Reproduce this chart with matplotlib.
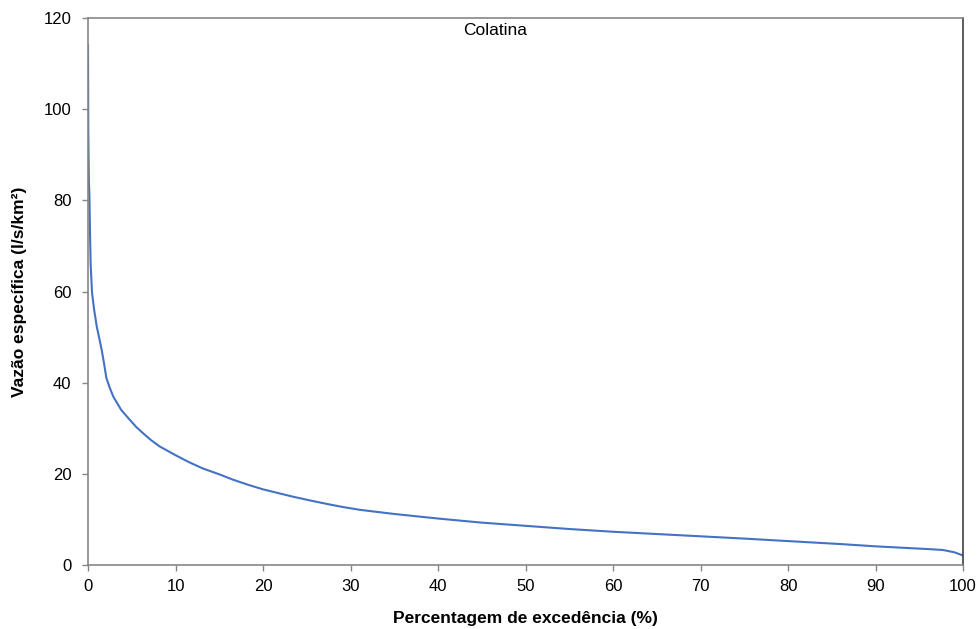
import matplotlib.pyplot as plt
import numpy as np

plt.rcParams['font.family'] = ['Liberation Sans', 'DejaVu Sans']

# curva de permanência - Colatina
excedencia = [0.0, 0.03, 0.1, 0.15, 0.23, 0.3, 0.46, 0.7, 1.0, 1.3, 1.56, 1.85, 2.1, 2.5, 2.9,
              3.8, 4.8, 5.5, 6.3, 7.2, 8.2, 10.0, 11.5, 13.1, 15.0, 16.6, 18.3, 20.0, 21.7,
              23.4, 25.3, 27.3, 29.2, 31.1, 35.0, 40.0, 45.0,
              50.0, 55.0, 60.0, 65.0, 70.0, 75.0, 81.4, 86.0, 90.0, 94.0, 96.0,
              97.7, 99.0, 100.0]
vazao = [114.0, 95.0, 84.0, 81.6, 72.8, 66.0, 59.7, 56.0, 52.3, 49.6, 47.2, 44.0, 41.0, 38.8, 36.9,
         34.0, 31.8, 30.3, 28.9, 27.4, 26.0, 24.1, 22.6, 21.2, 19.9, 18.7, 17.6, 16.6, 15.8,
         15.0, 14.2, 13.4, 12.7, 12.1, 11.2, 10.2, 9.3,
         8.6, 7.9, 7.3, 6.8, 6.3, 5.8, 5.1, 4.6, 4.1, 3.7, 3.5,
         3.3, 2.8, 2.1]

fig = plt.figure(figsize=(9.78, 6.29), dpi=100)
ax = fig.add_axes([0.090, 0.1017, 0.8947, 0.8697])

ax.plot(excedencia, vazao, color='#4472c4', linewidth=1.5)

ax.set_xlim(0, 100)
ax.set_ylim(0, 120)
ax.set_xticks(np.arange(0, 101, 10))
ax.set_yticks(np.arange(0, 121, 20))
ax.tick_params(direction='out', length=4, width=1, color='#868686', labelsize=12)
ax.tick_params(axis='x', pad=6)
ax.tick_params(axis='y', pad=8)

for lado in ['left', 'bottom', 'top']:
    ax.spines[lado].set_color('#868686')
ax.spines['right'].set_color('#404040')
for s in ax.spines.values():
    s.set_linewidth(1.2)

ax.text(0.465, 0.978, 'Colatina', transform=ax.transAxes, ha='center', va='center', fontsize=12.5)
ax.set_xlabel('Percentagem de excedência (%)', fontsize=12.5, fontweight='bold', labelpad=12)
ax.set_ylabel('Vazão específica (l/s/km²)', fontsize=12.5, fontweight='bold', labelpad=12)

fig.savefig('out.png', dpi=100)
